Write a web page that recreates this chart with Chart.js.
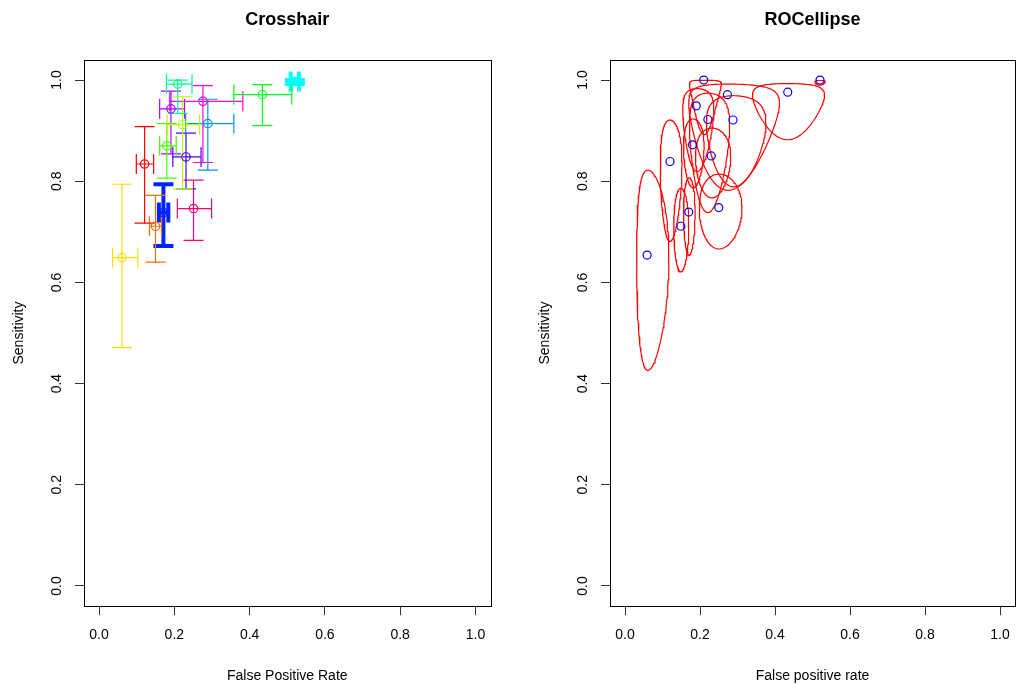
<!DOCTYPE html>
<html>
<head>
<meta charset="utf-8">
<script src="https://cdn.jsdelivr.net/npm/chart.js@4"></script>
<style>
  body { margin: 0; background: #fff; }
  .panel { position: absolute; top: 0; width: 508px; height: 684px; }
</style>
</head>
<body>
<div class="panel" style="left:0"><canvas id="crosshair" width="508" height="684"></canvas></div>
<div class="panel" style="left:508px"><canvas id="rocellipse" width="508" height="684"></canvas></div>
<script>
// crosshair panel: study estimates (false positive rate, sensitivity) with confidence limits
const fpr      = [0.121, 0.150, 0.061, 0.222, 0.180, 0.434, 0.209, 0.520, 0.289, 0.171, 0.231, 0.191, 0.276, 0.251];
const fprLower = [0.099, 0.134, 0.036, 0.181, 0.161, 0.358, 0.179, 0.509, 0.230, 0.159, 0.196, 0.161, 0.188, 0.208];
const fprUpper = [0.145, 0.166, 0.103, 0.267, 0.205, 0.512, 0.247, 0.531, 0.358, 0.184, 0.271, 0.227, 0.382, 0.299];
const sens      = [0.834, 0.711, 0.649, 0.912, 0.870, 0.971, 0.992, 0.997, 0.914, 0.738, 0.848, 0.943, 0.958, 0.746];
const sensLower = [0.717, 0.640, 0.471, 0.785, 0.806, 0.910, 0.934, 0.992, 0.822, 0.672, 0.785, 0.854, 0.837, 0.683];
const sensUpper = [0.908, 0.772, 0.794, 0.967, 0.914, 0.991, 1.000, 1.000, 0.962, 0.794, 0.895, 0.978, 0.989, 0.802];

// ROCellipse panel: observed points
const rocFpr  = [0.120, 0.149, 0.059, 0.221, 0.180, 0.434, 0.210, 0.520, 0.288, 0.170, 0.230, 0.190, 0.273, 0.250];
const rocSens = [0.839, 0.711, 0.654, 0.922, 0.872, 0.976, 1.000, 1.000, 0.921, 0.739, 0.850, 0.949, 0.971, 0.748];

// extents of each confidence ellipse in ROC space
const ellFprLower  = [0.094, 0.130, 0.031, 0.172, 0.156, 0.340, 0.172, 0.506, 0.217, 0.156, 0.188, 0.154, 0.170, 0.198];
const ellFprUpper  = [0.152, 0.170, 0.117, 0.279, 0.211, 0.532, 0.257, 0.534, 0.376, 0.187, 0.282, 0.237, 0.412, 0.312];
const ellSensLower = [0.681, 0.621, 0.426, 0.738, 0.787, 0.882, 0.892, 0.990, 0.789, 0.654, 0.767, 0.819, 0.782, 0.666];
const ellSensUpper = [0.921, 0.786, 0.822, 0.974, 0.923, 0.993, 0.9995, 0.9991, 0.969, 0.807, 0.905, 0.983, 0.992, 0.814];

const tickValues = [0, 0.2, 0.4, 0.6, 0.8, 1.0];

const studyColors = ['#FF0000', '#FF6D00', '#FFDB00', '#B6FF00', '#49FF00', '#00FF24', '#00FF92',
                     '#00FFFF', '#0092FF', '#0024FF', '#4900FF', '#B600FF', '#FF00DB', '#FF006D'];
const studyWidths = [1.2, 1.2, 1.2, 1.2, 1.2, 1.2, 1.2, 4, 1.2, 4, 1.2, 1.2, 1.2, 1.2];

Chart.defaults.font.family = '"Liberation Sans", Arial, sans-serif';
Chart.defaults.color = '#000';

function logit(p) { return Math.log(p / (1 - p)); }
function expit(v) { return 1 / (1 + Math.exp(-v)); }

// ellipse is round on the logit scale, so it comes out egg shaped in ROC space
function ellipseOutline(i) {
    const cx = (logit(ellFprLower[i]) + logit(ellFprUpper[i])) / 2;
    const rx = (logit(ellFprUpper[i]) - logit(ellFprLower[i])) / 2;
    const cy = (logit(ellSensLower[i]) + logit(ellSensUpper[i])) / 2;
    const ry = (logit(ellSensUpper[i]) - logit(ellSensLower[i])) / 2;
    const pts = [];
    for (let k = 0; k <= 120; k++) {
        const t = 2 * Math.PI * k / 120;
        pts.push({ x: expit(cx + rx * Math.cos(t)), y: expit(cy + ry * Math.sin(t)) });
    }
    return pts;
}

// box round the plot and the vertical y tick labels (R style)
const framePlugin = {
    id: 'frame',
    afterDraw(chart) {
        const { ctx, chartArea: a } = chart;
        const y = chart.scales.y;
        ctx.save();
        ctx.strokeStyle = '#000';
        ctx.lineWidth = 1;
        ctx.strokeRect(Math.round(a.left) + 0.5, Math.round(a.top) + 0.5,
            Math.round(a.right - a.left), Math.round(a.bottom - a.top));
        ctx.font = '14px "Liberation Sans", Arial, sans-serif';
        ctx.fillStyle = '#000';
        ctx.textAlign = 'center';
        ctx.textBaseline = 'alphabetic';
        y.ticks.forEach(t => {
            const py = y.getPixelForValue(t.value);
            ctx.save();
            ctx.translate(a.left - 23, py);
            ctx.rotate(-Math.PI / 2);
            ctx.fillText(t.value.toFixed(1), 0, 0);
            ctx.restore();
        });
        ctx.restore();
    }
};

function noPad(s) {
    s.paddingLeft = 0; s.paddingRight = 0; s.paddingTop = 0; s.paddingBottom = 0;
}

function panelOptions(title, xTitle, padLeft, padRight) {
    return {
        responsive: false,
        animation: false,
        events: [],
        layout: { autoPadding: false, padding: { left: padLeft, right: padRight, top: 0, bottom: 0 } },
        plugins: {
            legend: { display: false },
            tooltip: { enabled: false },
            title: {
                display: true,
                text: title,
                fullSize: false,
                font: { size: 18, weight: 'bold' },
                padding: { top: 9, bottom: 29.2 }
            }
        },
        scales: {
            x: {
                type: 'linear',
                min: -0.04,
                max: 1.04,
                afterBuildTicks: s => { s.ticks = tickValues.map(v => ({ value: v })); },
                afterFit: s => { s.height = 77.8; noPad(s); },
                ticks: { font: { size: 14 }, padding: 12, callback: v => v.toFixed(1) },
                grid: { drawOnChartArea: false, tickLength: 9, color: '#333' },
                border: { display: false },
                title: { display: true, text: xTitle, font: { size: 14 }, padding: { top: 0, bottom: -1 } }
            },
            y: {
                type: 'linear',
                min: -0.04,
                max: 1.04,
                afterBuildTicks: s => { s.ticks = tickValues.map(v => ({ value: v })); },
                afterFit: s => { s.width = 84; noPad(s); },
                ticks: { display: false },
                grid: { drawOnChartArea: false, tickLength: 9, color: '#333' },
                border: { display: false },
                title: { display: true, text: 'Sensitivity', font: { size: 14 }, padding: { top: 10.5, bottom: 0 } }
            }
        }
    };
}

// left panel: crosshairs
const crossSets = [{
    data: fpr.map((f, i) => ({ x: f, y: sens[i] })),
    pointStyle: 'circle',
    pointRadius: 4.2,
    pointBorderWidth: 1.2,
    pointBorderColor: studyColors,
    pointBackgroundColor: 'rgba(0,0,0,0)',
    showLine: false
}];
fpr.forEach((f, i) => {
    crossSets.push({
        data: [
            { x: fprLower[i], y: sens[i] }, { x: fprUpper[i], y: sens[i] },
            { x: null, y: null },
            { x: f, y: sensLower[i] }, { x: f, y: sensUpper[i] }
        ],
        showLine: true,
        spanGaps: false,
        borderColor: studyColors[i],
        borderWidth: studyWidths[i],
        pointStyle: 'line',
        pointRadius: 10,
        pointRotation: c => (c.dataIndex < 2 ? 90 : 0),
        pointBorderColor: studyColors[i],
        pointBorderWidth: studyWidths[i]
    });
});

new Chart(document.getElementById('crosshair'), {
    type: 'scatter',
    data: { datasets: crossSets },
    options: panelOptions('Crosshair', 'False Positive Rate', 0, 17.5),
    plugins: [framePlugin]
});

// right panel: confidence ellipses
const ellSets = [{
    data: rocFpr.map((f, i) => ({ x: f, y: rocSens[i] })),
    pointStyle: 'circle',
    pointRadius: 4,
    pointBorderWidth: 1.2,
    pointBorderColor: '#0000FF',
    pointBackgroundColor: 'rgba(0,0,0,0)',
    showLine: false
}];
rocFpr.forEach((f, i) => {
    ellSets.push({
        data: ellipseOutline(i),
        showLine: true,
        borderColor: '#FF0000',
        borderWidth: 1.2,
        pointRadius: 0
    });
});

new Chart(document.getElementById('rocellipse'), {
    type: 'scatter',
    data: { datasets: ellSets },
    options: panelOptions('ROCellipse', 'False positive rate', 18, 1),
    plugins: [framePlugin]
});
</script>
</body>
</html>
